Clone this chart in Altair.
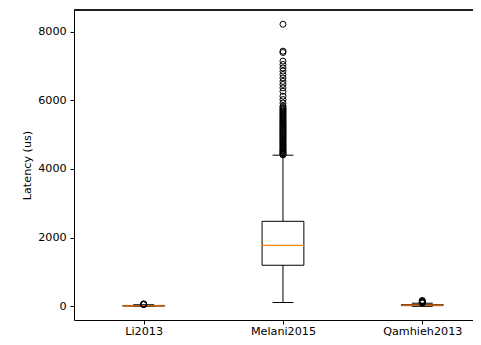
import altair as alt
import pandas as pd

names = ["Li2013", "Melani2015", "Qamhieh2013"]
positions = [1, 2, 3]
whisker_low = [0, 110, 0]
q1 = [5, 1195, 20]
median = [15, 1775, 35]
q3 = [25, 2475, 50]
whisker_high = [45, 4400, 90]

li_outliers = [50, 55, 60, 70]
melani_outliers = [4410, 4430, 4450, 4475, 4500, 4525, 4550, 4580, 4610, 4640,
                   4670, 4700, 4730, 4760, 4790, 4820, 4850, 4880, 4910, 4940,
                   4970, 5000, 5030, 5060, 5090, 5120, 5150, 5180, 5210, 5240,
                   5270, 5300, 5330, 5360, 5390, 5420, 5450, 5480, 5510, 5540,
                   5570, 5600, 5630, 5660, 5690, 5720, 5750, 5790, 5830, 5920,
                   6020, 6120, 6260, 6360, 6460, 6550, 6650, 6750, 6850, 6940,
                   7040, 7140, 7390, 7430, 8213]
qamhieh_outliers = [95, 105, 115, 125, 140, 155, 170]

y_ticks = [0, 2000, 4000, 6000, 8000]

box_df = pd.DataFrame({
    "name": names, "pos": positions, "wlo": whisker_low, "q1": q1,
    "med": median, "q3": q3, "whi": whisker_high,
})
out_rows = []
for nm, p, vals in zip(names, positions, [li_outliers, melani_outliers, qamhieh_outliers]):
    for v in vals:
        out_rows.append({"name": nm, "pos": p, "value": v})
out_df = pd.DataFrame(out_rows)

FONT = "DejaVu Sans"
FS = 11.2
label_expr = "datum.value == 1 ? 'Li2013' : datum.value == 2 ? 'Melani2015' : datum.value == 3 ? 'Qamhieh2013' : ''"

PLOT_W = 399
xscale = alt.Scale(domain=[0.5, 3.364], nice=False, zero=False)
yscale = alt.Scale(domain=[-399, 8628], nice=False, zero=False)

xaxis = alt.Axis(values=positions, labelExpr=label_expr, title=None, grid=False,
                 domainColor="black", tickColor="black", labelColor="black",
                 tickSize=4, labelPadding=1.2, labelFont=FONT, labelFontSize=FS,
                 domainWidth=1, tickWidth=1, labelFlush=False)
yaxis = alt.Axis(values=y_ticks, format="d", title="Latency (us)", grid=False,
                 domainColor="black", tickColor="black", labelColor="black",
                 tickSize=4, labelPadding=3.8, labelFont=FONT, labelFontSize=FS,
                 titleFont=FONT, titleFontSize=FS, titleFontWeight="normal",
                 titleColor="black", titlePadding=5, domainWidth=1, tickWidth=1)

base = alt.Chart(box_df).transform_calculate(
    lo="datum.pos - 0.15", hi="datum.pos + 0.15",
    clo="datum.pos - 0.075", chi="datum.pos + 0.075",
)

box = base.mark_rect(fill="white", fillOpacity=0, stroke="black", strokeWidth=1).encode(
    x=alt.X("lo:Q", scale=xscale, axis=xaxis),
    x2="hi:Q",
    y=alt.Y("q1:Q", scale=yscale, axis=yaxis),
    y2="q3:Q",
)
wlow = base.mark_rule(color="black", strokeWidth=1).encode(
    x="pos:Q", y="wlo:Q", y2="q1:Q")
whigh = base.mark_rule(color="black", strokeWidth=1).encode(
    x="pos:Q", y="q3:Q", y2="whi:Q")
cap_low = base.mark_rule(color="black", strokeWidth=1).encode(
    x="clo:Q", x2="chi:Q", y="wlo:Q")
cap_high = base.mark_rule(color="black", strokeWidth=1).encode(
    x="clo:Q", x2="chi:Q", y="whi:Q")
med = base.mark_rule(color="#ff7f0e", strokeWidth=1.2).encode(
    x="lo:Q", x2="hi:Q", y="med:Q")
fliers = alt.Chart(out_df).mark_point(shape="circle", filled=False, color="black",
                                      size=36, strokeWidth=1, opacity=1).encode(
    x="pos:Q", y="value:Q")
top_spine = alt.Chart(box_df).mark_rule(color="black", strokeWidth=1).encode(
    x=alt.value(0), x2=alt.value(PLOT_W), y=alt.value(0))

chart = alt.layer(box, wlow, whigh, cap_low, cap_high, med, fliers, top_spine).properties(
    width=PLOT_W, height=310,
    autosize=alt.AutoSizeParams(type="none"),
    padding={"left": 66, "top": 2, "right": 0, "bottom": 17},
    background="white",
).configure_view(stroke=None)

chart.save("out.html", embed_options={"renderer": "svg", "actions": False})
